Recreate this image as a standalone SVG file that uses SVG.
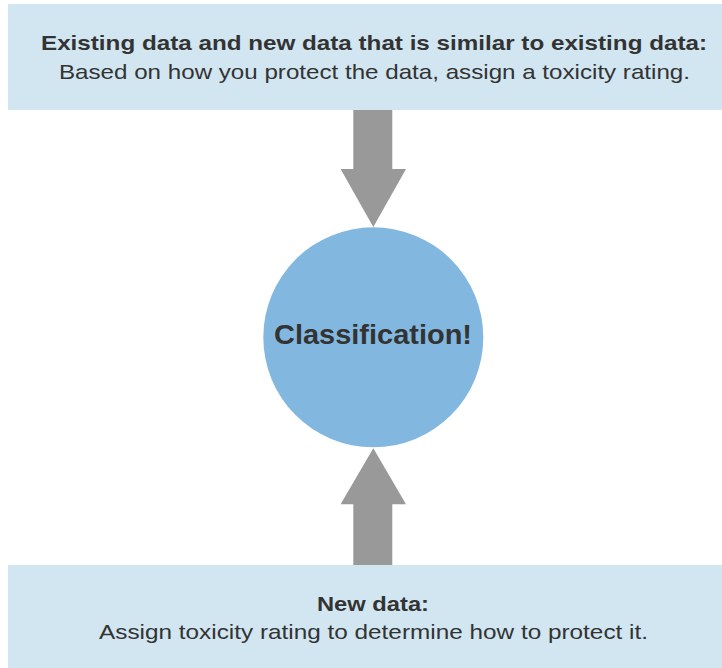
<svg xmlns="http://www.w3.org/2000/svg" width="722" height="668" viewBox="0 0 722 668">
  <style>
    .panel { fill: #d1e6f1; }
    .hub { fill: #82b8df; }
    .arrow { fill: #999999; }
    text { font-family: "Liberation Sans", Arial, sans-serif; fill: #333333; text-anchor: middle; }
    .head { font-weight: bold; font-size: 21px; }
    .body { font-size: 21px; }
    .hubtext { font-weight: bold; font-size: 28px; }
  </style>
  <rect width="722" height="668" fill="#ffffff"/>

  <g id="existing-data">
    <rect class="panel" x="8" y="4" width="714" height="106"/>
    <text class="head" x="374" y="50" textLength="666" lengthAdjust="spacingAndGlyphs">Existing data and new data that is similar to existing data:</text>
    <text class="body" x="374.5" y="78.5" textLength="631" lengthAdjust="spacingAndGlyphs">Based on how you protect the data, assign a toxicity rating.</text>
  </g>

  <g id="classification">
    <circle class="hub" cx="373.3" cy="337.3" r="110"/>
    <text class="hubtext" x="373" y="344.3" textLength="198" lengthAdjust="spacingAndGlyphs">Classification!</text>
  </g>

  <g id="new-data">
    <rect class="panel" x="8" y="565" width="714" height="103"/>
    <text class="head" x="373" y="611" textLength="112" lengthAdjust="spacingAndGlyphs">New data:</text>
    <text class="body" x="373.5" y="638.5" textLength="549" lengthAdjust="spacingAndGlyphs">Assign toxicity rating to determine how to protect it.</text>
  </g>

  <g id="connectors">
    <polygon class="arrow" points="353.3,110 392.3,110 392.3,169 406,169 373.3,227 340.6,169 353.3,169"/>
    <polygon class="arrow" points="353.3,565 392.3,565 392.3,504.3 406,504.3 373.3,448.3 340.6,504.3 353.3,504.3"/>
  </g>
</svg>
